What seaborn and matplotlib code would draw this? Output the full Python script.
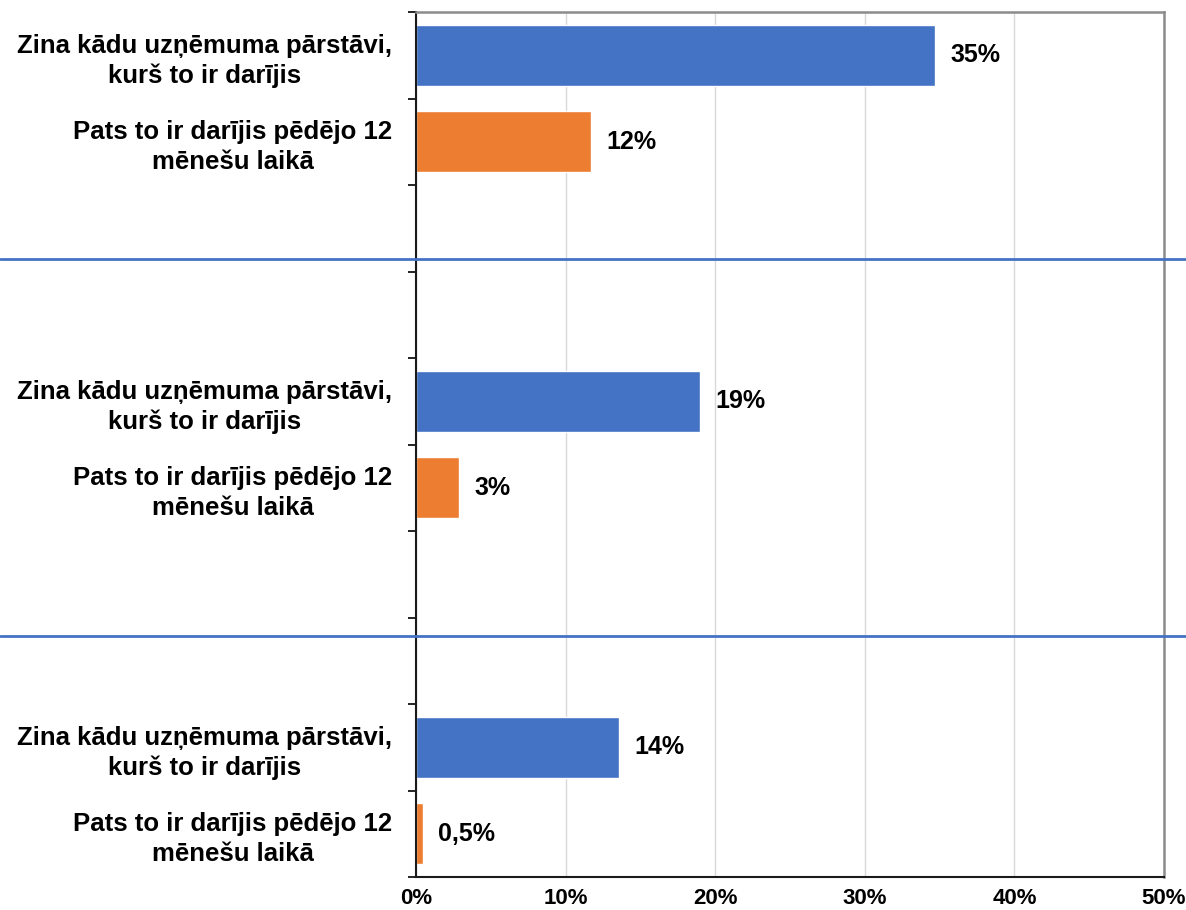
import numpy as np
import pandas as pd
import seaborn as sns
import matplotlib.pyplot as plt
import matplotlib.transforms as mtransforms

# ---- data ----
label_known = "Zina kādu uzņēmuma pārstāvi,\nkurš to ir darījis"
label_self = "Pats to ir darījis pēdējo 12\nmēnešu laikā"
values_known = [34.7, 19.0, 13.6]
values_self = [11.7, 2.9, 0.5]
text_known = ["35%", "19%", "14%"]
text_self = ["12%", "3%", "0,5%"]
x_ticks = [0, 10, 20, 30, 40, 50]
x_ticklabels = ["0%", "10%", "20%", "30%", "40%", "50%"]

# ten category slots, four of them empty (spacing between the groups)
slots = ["s%d" % i for i in range(10)]
known_slots = ["s0", "s4", "s8"]
self_slots = ["s1", "s5", "s9"]

df = pd.DataFrame({
    "slot": known_slots + self_slots,
    "value": values_known + values_self,
    "series": ["known"] * 3 + ["self"] * 3,
    "text": text_known + text_self,
})
slot_labels = {s: label_known for s in known_slots}
slot_labels.update({s: label_self for s in self_slots})

sns.set_style("white")
plt.rcParams["font.family"] = ["Liberation Sans", "DejaVu Sans"]
plt.rcParams["text.color"] = "black"
plt.rcParams["xtick.color"] = "black"
plt.rcParams["ytick.color"] = "black"

fig = plt.figure(figsize=(11.86, 9.10), dpi=100)
ax = fig.add_axes([416 / 1186, 1 - 877 / 910, (1164 - 416) / 1186, (877 - 12) / 910])

sns.barplot(data=df, x="value", y="slot", hue="series", order=slots,
            palette={"known": "#4472C4", "self": "#ED7D31"},
            dodge=False, width=0.7, legend=False, ax=ax, saturation=1)

ax.set_xlim(0, 50)
ax.set_ylim(9.5, -0.5)
ax.set_xlabel("")
ax.set_ylabel("")

# value labels
for _, r in df.iterrows():
    ax.text(r["value"] + 1.0, slots.index(r["slot"]), r["text"],
            va="center", ha="left", fontsize=18, fontweight="bold", color="black")

# x axis
ax.set_xticks(x_ticks)
ax.set_xticklabels(x_ticklabels, fontsize=16, fontweight="bold")
ax.tick_params(axis="x", length=3, color="#808080", labelcolor="black", pad=5)
ax.grid(axis="x", color="#d9d9d9", linewidth=1)
ax.set_axisbelow(True)

# y axis: tick marks at slot boundaries, labels at slot centres
ax.set_yticks(np.arange(-0.5, 10, 1))
ax.set_yticklabels([])
ax.tick_params(axis="y", which="major", length=6, width=1.2, color="black", left=True)
ax.set_yticks(np.arange(10), minor=True)
ax.set_yticklabels([slot_labels.get(s, "") for s in slots], minor=True,
                   fontsize=18.5, fontweight="bold")
ax.tick_params(axis="y", which="minor", length=0, pad=17, labelcolor="black")
for lbl in ax.get_yticklabels(minor=True):
    lbl.set_multialignment("center")
    lbl.set_linespacing(1.3)

for side in ["left", "bottom"]:
    ax.spines[side].set_color("#1a1a1a")
    ax.spines[side].set_linewidth(1.5)
for side in ["top", "right"]:
    ax.spines[side].set_color("#8c8c8c")
    ax.spines[side].set_linewidth(1.8)

# group separator lines across the whole figure width
trans = mtransforms.blended_transform_factory(fig.transFigure, ax.transData)
for y in [2.355, 6.714]:
    ax.plot([0, 1], [y, y], transform=trans, color="#4472C4", linewidth=2,
            clip_on=False, zorder=5)

fig.savefig("out.png", dpi=100)
